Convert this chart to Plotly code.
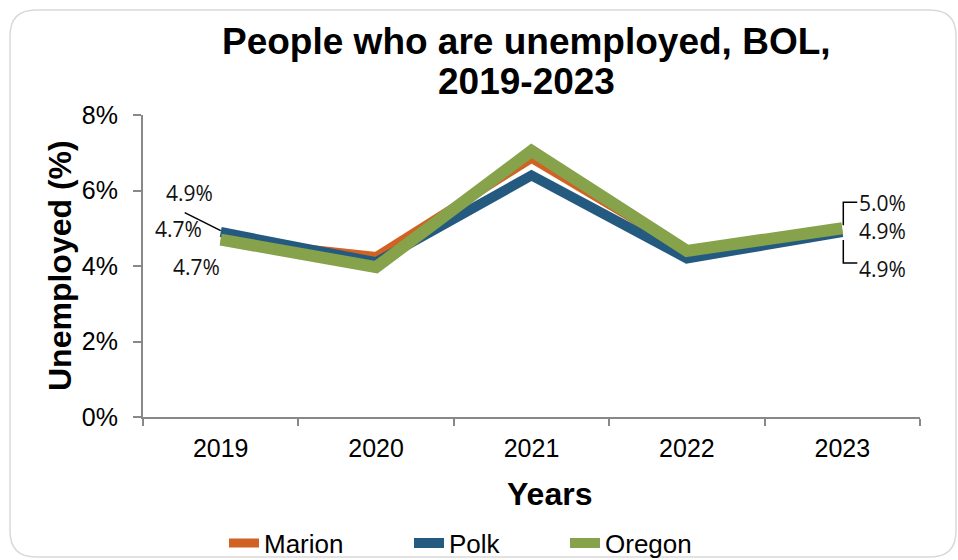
import plotly.graph_objects as go

years = ["2019", "2020", "2021", "2022", "2023"]
marion = [4.7, 4.25, 6.85, 4.4, 4.9]
polk = [4.9, 4.1, 6.4, 4.2, 4.9]
oregon = [4.7, 3.97, 7.05, 4.4, 5.0]
ytick_vals = [0, 2, 4, 6, 8]
ytick_text = ["0%", "2%", "4%", "6%", "8%"]

W, H = 958, 560
L, R, T, B = 143, 38, 115, 143
FONT = "Liberation Sans, Arial, sans-serif"

def px(x):
    return (x - L) / (W - L - R)
def py(y):
    return 1 - (y - T) / (H - T - B)

fig = go.Figure()
series = [("Marion", marion, "#D06224", 9, "legend"),
          ("Polk", polk, "#245A80", 10, "legend2"),
          ("Oregon", oregon, "#86A24B", 12, "legend3")]
for name, vals, col, w, lg in series:
    fig.add_trace(go.Scatter(x=years, y=vals, mode="lines", name=name, legend=lg,
                             line=dict(color=col, width=w), cliponaxis=False))

lab_font = dict(family="Open Sans, Liberation Sans, sans-serif", size=21, color="#111")

def label(i, yv, dx, dy):
    fig.add_annotation(x=i, y=yv, xref="x", yref="y", text=f"{yv:.1f}%", showarrow=False,
                       xshift=dx, yshift=dy, font=lab_font)

def leader(i, yv, path):
    fig.add_shape(type="path", xref="x", yref="y", xsizemode="pixel", ysizemode="pixel",
                  xanchor=i, yanchor=yv, path=path, line=dict(color="#000", width=1.5))

# Left labels (2019)
label(0, polk[0], -31, 39)
label(0, marion[0], -42, 11)
label(0, oregon[0], -24, -27)
leader(0, marion[0], "M 0 9 L -36 27")

# Right labels (2023)
label(4, oregon[4], 40, 25)
label(4, marion[4], 40, 1)
label(4, polk[4], 40, -37)
leader(4, oregon[4], "M 15 26 L 1 26 L 1 3")
leader(4, polk[4], "M 1 -8 L 1 -31 L 15 -31")

# Rounded outer frame (paper coords)
x0, y0, x1, y1, r = 10, 10, 956, 557, 26
path = (f"M {px(x0+r)} {py(y0)} L {px(x1-r)} {py(y0)} Q {px(x1)} {py(y0)} {px(x1)} {py(y0+r)} "
        f"L {px(x1)} {py(y1-r)} Q {px(x1)} {py(y1)} {px(x1-r)} {py(y1)} "
        f"L {px(x0+r)} {py(y1)} Q {px(x0)} {py(y1)} {px(x0)} {py(y1-r)} "
        f"L {px(x0)} {py(y0+r)} Q {px(x0)} {py(y0)} {px(x0+r)} {py(y0)} Z")
fig.add_shape(type="path", xref="paper", yref="paper", path=path,
              line=dict(color="#D9D9D9", width=1.5), layer="below")

# Title (two lines)
title_font = dict(family=FONT, size=37, color="#000")
fig.add_annotation(x=px(526), y=py(41), xref="paper", yref="paper", showarrow=False,
                   text="<b>People who are unemployed, BOL,</b>", font=title_font,
                   xanchor="center", yanchor="middle")
fig.add_annotation(x=px(526), y=py(81), xref="paper", yref="paper", showarrow=False,
                   text="<b>2019-2023</b>", font=title_font, xanchor="center", yanchor="middle")
# Axis titles
fig.add_annotation(x=px(549), y=py(494), xref="paper", yref="paper", showarrow=False,
                   text="<b>Years</b>", font=dict(family=FONT, size=32, color="#000"),
                   xanchor="center", yanchor="middle")
fig.add_annotation(x=px(60), y=py(266), xref="paper", yref="paper", showarrow=False,
                   text="<b>Unemployed (%)</b>", textangle=-90,
                   font=dict(family=FONT, size=32, color="#000"),
                   xanchor="center", yanchor="middle")

leg_common = dict(orientation="h", yref="container", y=1 - 543 / H, yanchor="middle",
                  xref="container", xanchor="left",
                  font=dict(family=FONT, size=26, color="#000"),
                  bgcolor="rgba(0,0,0,0)", itemwidth=30)

fig.update_layout(
    width=W, height=H,
    margin=dict(l=L, r=R, t=T, b=B, autoexpand=False),
    paper_bgcolor="white", plot_bgcolor="white",
    font=dict(family=FONT, color="#000"),
    xaxis=dict(type="category", tickson="boundaries", ticks="outside", ticklen=7,
               tickcolor="#888", tickwidth=2, showline=True, linecolor="#888", linewidth=2,
               showgrid=False, zeroline=False, range=[-0.5, 4.5], automargin=False,
               tickfont=dict(size=25), ticklabelstandoff=8),
    yaxis=dict(range=[0, 8], tickvals=ytick_vals, ticktext=ytick_text, ticks="outside",
               ticklen=8, tickcolor="#888", tickwidth=2, showline=True, linecolor="#888",
               linewidth=2, showgrid=False, zeroline=False, tickfont=dict(size=25),
               automargin=False, ticklabelstandoff=10),
    legend=dict(**leg_common, x=224 / W),
    legend2=dict(**leg_common, x=409 / W),
    legend3=dict(**leg_common, x=565 / W),
    showlegend=True,
)

fig.write_html("out.html", config={"displayModeBar": False},
               post_script="document.body.style.margin='0';")
